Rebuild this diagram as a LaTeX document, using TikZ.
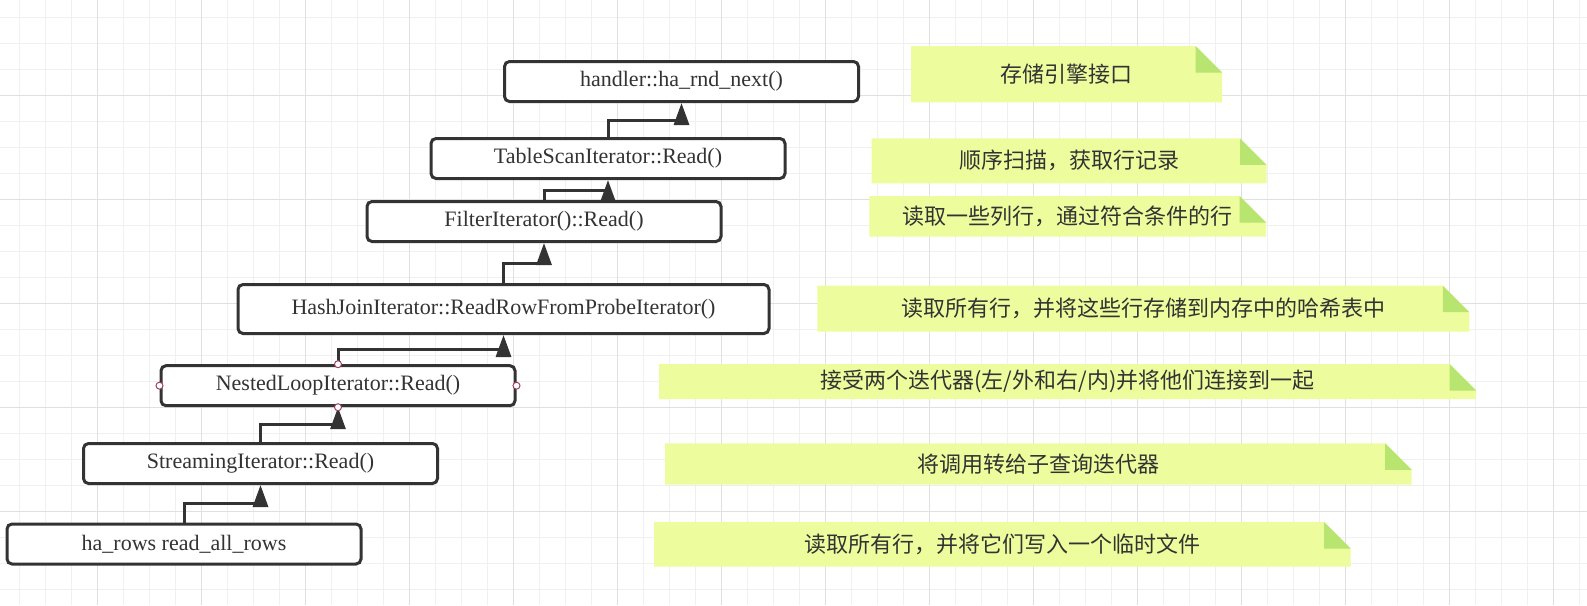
\documentclass[tikz,border=0pt]{standalone}
\usepackage{fontspec}
\setmainfont{Liberation Serif}
\newfontfamily\cjk{Noto Sans CJK SC}
\usetikzlibrary{arrows.meta,calc}
\definecolor{ink}{RGB}{51,51,51}
\definecolor{minorgrid}{RGB}{240,240,240}
\definecolor{majorgrid}{RGB}{224,224,224}
\definecolor{notefill}{RGB}{237,252,157}
\definecolor{foldfill}{RGB}{184,228,112}
\definecolor{handlecol}{RGB}{160,64,90}
\newcommand\stickynote[6]{%
  \fill[notefill] (#2,#3) -- ({#4-26.5},#3) -- (#4,{#3+26.5}) -- (#4,#5) -- (#2,#5) -- cycle;
  \fill[foldfill] ({#4-26.5},#3) -- ({#4-26.5},{#3+26.5}) -- (#4,{#3+26.5}) -- cycle;
  \node[notetext] (#1) at ({(#2+#4)/2},{(#3+#5)/2}) {#6};
}
\begin{document}
\begin{tikzpicture}[x=1pt,y=-1pt,
  box/.style={draw=ink, line width=3pt, rounded corners=5pt, fill=white, text=ink,
    font=\fontsize{22}{26}\selectfont, minimum width=354pt, minimum height=40pt, inner sep=0pt},
  conn/.style={draw=ink, line width=3pt, -{Triangle[width=15pt,length=22pt]}},
  notetext/.style={text=ink, font=\cjk\fontsize{22}{26}\selectfont, inner sep=0pt},
  handle/.style={circle, draw=handlecol, fill=white, line width=1pt, minimum size=7pt, inner sep=0pt},
  mingrid/.style={draw=minorgrid, line width=1.3pt},
  majgrid/.style={draw=majorgrid, line width=1.3pt}]
\useasboundingbox (0,0) rectangle (1587,605);
% grid
\foreach \i in {0,...,60} \draw[mingrid] ({19.3+26*\i},0) -- ({19.3+26*\i},605);
\foreach \j in {0,...,22} \draw[mingrid] (0,{17.3+26*\j}) -- (1587,{17.3+26*\j});
\foreach \i in {0,...,14} \draw[majgrid] ({97.3+104*\i},0) -- ({97.3+104*\i},605);
\foreach \j in {0,...,4} \draw[majgrid] (0,{95.3+104*\j}) -- (1587,{95.3+104*\j});
% boxes
\node[box] (b1) at (681.5,81.5) {handler::ha\_rnd\_next()};
\node[box] (b2) at (608,158.5) {TableScanIterator::Read()};
\node[box] (b3) at (544,221.5) {FilterIterator()::Read()};
\node[box, minimum width=531pt, minimum height=49pt] (b4) at (503.5,309) {HashJoinIterator::ReadRowFromProbeIterator()};
\node[box] (b5) at (338,385.7) {NestedLoopIterator::Read()};
\node[box] (b6) at (260.5,463.5) {StreamingIterator::Read()};
\node[box] (b7) at (184,544) {ha\_rows read\_all\_rows};
% connectors
\draw[conn] (b2.north) |- ($(b2.north)!.5!(b1.south)$) -| (b1.south);
\draw[conn] (b3.north) |- ($(b3.north)!.5!(b2.south)$) -| (b2.south);
\draw[conn] (b4.north) |- ($(b4.north)!.5!(b3.south)$) -| (b3.south);
\draw[conn] (b5.north) |- ($(b5.north)!.5!(b4.south)$) -| (b4.south);
\draw[conn] (b6.north) |- ($(b6.north)!.5!(b5.south)$) -| (b5.south);
\draw[conn] (b7.north) |- ($(b7.north)!.5!(b6.south)$) -| (b6.south);
% selection handles
\node[handle] (h1) at (b5.north) {};
\node[handle] (h2) at (b5.south) {};
\node[handle] (h3) at (b5.west) {};
\node[handle] (h4) at (b5.east) {};
% notes
\stickynote{n1}{911}{46}{1222}{102.3}{存储引擎接口}
\stickynote{n2}{871.5}{138.3}{1266.5}{183.3}{顺序扫描，获取行记录}
\stickynote{n3}{869.3}{196}{1266}{236.7}{读取一些列行，通过符合条件的行}
\stickynote{n4}{817.3}{285.7}{1469.3}{331.7}{读取所有行，并将这些行存储到内存中的哈希表中}
\stickynote{n5}{659}{364}{1476}{399}{接受两个迭代器(左/外和右/内)并将他们连接到一起}
\stickynote{n6}{665}{443.3}{1411.7}{484.5}{将调用转给子查询迭代器}
\stickynote{n7}{654}{522}{1350.7}{566.7}{读取所有行，并将它们写入一个临时文件}
\end{tikzpicture}
\end{document}
